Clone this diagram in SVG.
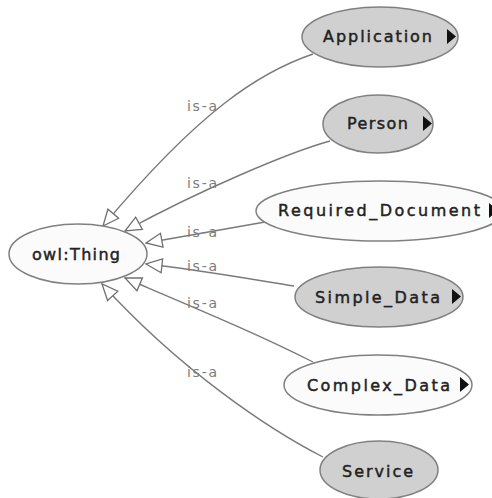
<svg xmlns="http://www.w3.org/2000/svg" width="492" height="498" viewBox="0 0 492 498">
<style>
.bg{fill:#ffffff}
.nd{stroke:#808080;stroke-width:1.5}
.gray{fill:#d0d0d0}
.white{fill:#fbfbfb}
.lbl{font-family:"DejaVu Sans",sans-serif;font-size:16px;fill:#222222;stroke:#222222;stroke-width:0.45}
.tri{fill:#111111}
.edge{fill:none;stroke:#7a7a7a;stroke-width:1.4}
.isa{font-family:"DejaVu Sans",sans-serif;font-size:14px;fill:#7c7c7c}
</style>
<defs>
<marker id="hollow" viewBox="0 0 18 16" refX="17" refY="8" markerWidth="18" markerHeight="16" markerUnits="userSpaceOnUse" orient="auto">
<path d="M1,1 L17,8 L1,15 Z" fill="#ffffff" stroke="#707070" stroke-width="1.3"/>
</marker>
</defs>
<rect class="bg" x="0" y="0" width="492" height="498"/>
<g id="connectors">
<path class="edge" d="M313,54 C260,72 200,110 103,226" marker-end="url(#hollow)"/>
<path class="edge" d="M330,141 C290,152 200,190 125,231" marker-end="url(#hollow)"/>
<path class="edge" d="M265,222 C230,228 190,235 146,243" marker-end="url(#hollow)"/>
<path class="edge" d="M294,286 C250,279 200,270 146,264" marker-end="url(#hollow)"/>
<path class="edge" d="M313,362 C260,335 200,310 125,278" marker-end="url(#hollow)"/>
<path class="edge" d="M323,457 C270,430 180,370 102,284" marker-end="url(#hollow)"/>
<text class="isa" x="187" y="111" textLength="30" lengthAdjust="spacing">is-a</text>
<text class="isa" x="187" y="188" textLength="30" lengthAdjust="spacing">is-a</text>
<text class="isa" x="187" y="237" textLength="30" lengthAdjust="spacing">is-a</text>
<text class="isa" x="187" y="271" textLength="30" lengthAdjust="spacing">is-a</text>
<text class="isa" x="187" y="308" textLength="30" lengthAdjust="spacing">is-a</text>
<text class="isa" x="187" y="377" textLength="30" lengthAdjust="spacing">is-a</text>
</g>
<g id="owl-thing">
<ellipse class="nd white" cx="78" cy="254" rx="69" ry="30"/>
<text class="lbl" x="32" y="260" textLength="88" lengthAdjust="spacing">owl:Thing</text>
</g>
<g id="application">
<ellipse class="nd gray" cx="380" cy="37" rx="78" ry="30"/>
<text class="lbl" x="323" y="42" textLength="109" lengthAdjust="spacing">Application</text>
<path class="tri" d="M447,29 L447,44 L456,36.5 Z"/>
</g>
<g id="person">
<ellipse class="nd gray" cx="378" cy="124" rx="55" ry="29"/>
<text class="lbl" x="347" y="129" textLength="61" lengthAdjust="spacing">Person</text>
<path class="tri" d="M423,116 L423,131 L432,123.5 Z"/>
</g>
<g id="required-document">
<ellipse class="nd white" cx="380" cy="211" rx="124" ry="30"/>
<text class="lbl" x="278" y="216" textLength="202" lengthAdjust="spacing">Required_Document</text>
<path class="tri" d="M489,203 L489,218 L498,210.5 Z"/>
</g>
<g id="simple-data">
<ellipse class="nd gray" cx="379" cy="297" rx="84" ry="30"/>
<text class="lbl" x="315" y="303" textLength="125" lengthAdjust="spacing">Simple_Data</text>
<path class="tri" d="M452,289 L452,304 L461,296.5 Z"/>
</g>
<g id="complex-data">
<ellipse class="nd white" cx="378" cy="385" rx="94" ry="30"/>
<text class="lbl" x="307" y="391" textLength="143" lengthAdjust="spacing">Complex_Data</text>
<path class="tri" d="M460,377 L460,392 L469,384.5 Z"/>
</g>
<g id="service">
<ellipse class="nd gray" cx="379" cy="470" rx="59" ry="29"/>
<text class="lbl" x="342" y="477" textLength="71" lengthAdjust="spacing">Service</text>
</g>
</svg>
